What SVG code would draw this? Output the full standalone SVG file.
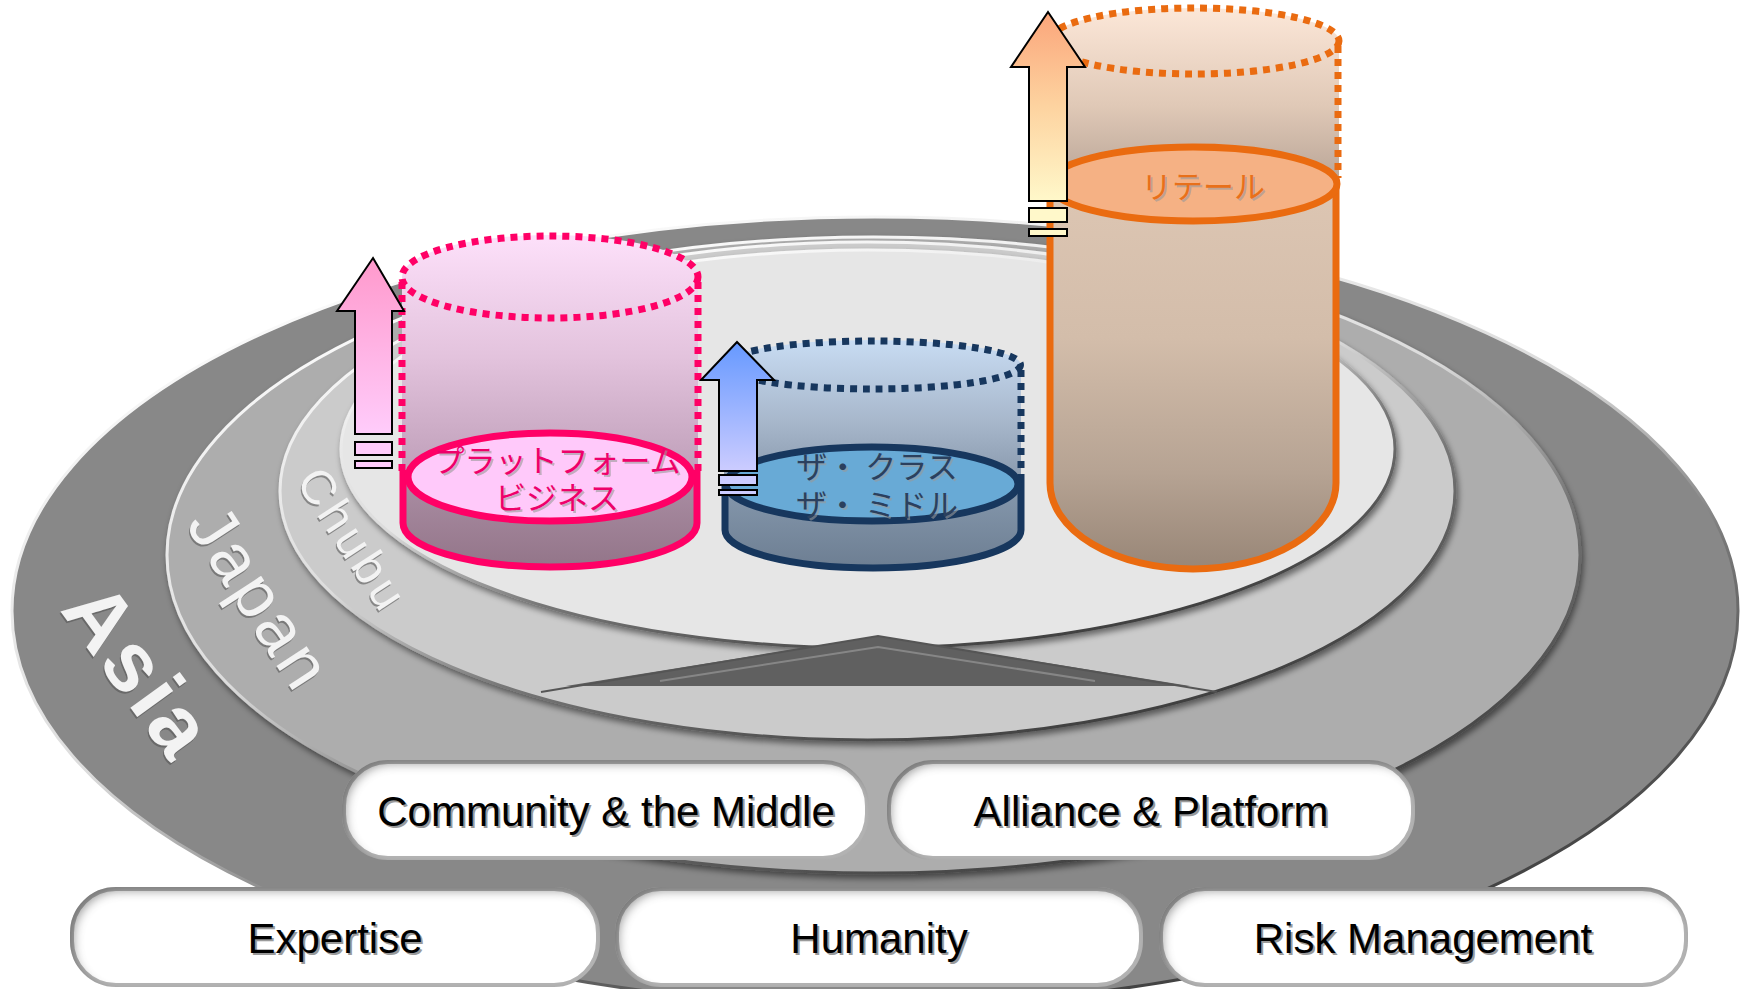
<svg xmlns="http://www.w3.org/2000/svg" width="1742" height="989" viewBox="0 0 1742 989">
<defs>
<style>
.box{fill:#fff;stroke:#b4b4b4;stroke-width:4;filter:url(#inset)}
.btxt{font-family:"Liberation Sans",Arial,sans-serif;font-size:42px;fill:#000;text-anchor:middle}
.bsh{font-family:"Liberation Sans",Arial,sans-serif;font-size:42px;fill:#9a9a9a;text-anchor:middle}
.ring{stroke:url(#edge);stroke-width:3}
.rl{font-family:"Liberation Sans",Arial,sans-serif;text-anchor:middle;fill:#f3f3f3}
.rls{font-family:"Liberation Sans",Arial,sans-serif;text-anchor:middle;fill:#505050;opacity:.55}
.jp{font-family:"Noto Sans CJK JP","Noto Sans CJK SC",sans-serif;font-size:31px;text-anchor:middle}
.jps{font-family:"Noto Sans CJK JP","Noto Sans CJK SC",sans-serif;font-size:31px;text-anchor:middle;fill:#999;opacity:.6}
.arrow{stroke:#000;stroke-width:2}
.dot{fill:none;stroke-width:7;stroke-dasharray:7 6}
.sol{fill:none;stroke-width:7}
</style>
<linearGradient id="edge" x1="0.2" y1="0" x2="0.8" y2="1">
 <stop offset="0" stop-color="#ffffff"/>
 <stop offset="0.45" stop-color="#dcdcdc"/>
 <stop offset="0.65" stop-color="#777"/>
 <stop offset="1" stop-color="#333"/>
</linearGradient>
<filter id="sh" x="-5%" y="-5%" width="110%" height="115%">
 <feGaussianBlur in="SourceAlpha" stdDeviation="3"/>
 <feOffset dx="2" dy="4"/>
 <feComponentTransfer><feFuncA type="linear" slope="0.5"/></feComponentTransfer>
 <feMerge><feMergeNode/><feMergeNode in="SourceGraphic"/></feMerge>
</filter>
<filter id="inset" x="-5%" y="-15%" width="110%" height="130%">
 <feComponentTransfer in="SourceAlpha" result="inv"><feFuncA type="table" tableValues="1 0"/></feComponentTransfer>
 <feGaussianBlur in="inv" stdDeviation="5"/>
 <feOffset dx="5" dy="5" result="ob"/>
 <feFlood flood-color="#505050" flood-opacity="0.7"/>
 <feComposite in2="ob" operator="in"/>
 <feComposite in2="SourceAlpha" operator="in" result="inner"/>
 <feMerge><feMergeNode in="SourceGraphic"/><feMergeNode in="inner"/></feMerge>
</filter>
<linearGradient id="pinkTop" gradientUnits="userSpaceOnUse" x1="0" y1="235" x2="0" y2="478">
 <stop offset="0" stop-color="#fde0fa"/><stop offset="0.5" stop-color="#e3c3dd"/><stop offset="1" stop-color="#bd9db7"/>
</linearGradient>
<linearGradient id="pinkLow" gradientUnits="userSpaceOnUse" x1="0" y1="478" x2="0" y2="567">
 <stop offset="0" stop-color="#ab8ea4"/><stop offset="1" stop-color="#937589"/>
</linearGradient>
<linearGradient id="blueTop" gradientUnits="userSpaceOnUse" x1="0" y1="340" x2="0" y2="484">
 <stop offset="0" stop-color="#c8dcf3"/><stop offset="0.55" stop-color="#a8b8cc"/><stop offset="1" stop-color="#8797ab"/>
</linearGradient>
<linearGradient id="blueLow" gradientUnits="userSpaceOnUse" x1="0" y1="484" x2="0" y2="568">
 <stop offset="0" stop-color="#8699ae"/><stop offset="1" stop-color="#6d7e92"/>
</linearGradient>
<linearGradient id="orTop" gradientUnits="userSpaceOnUse" x1="0" y1="8" x2="0" y2="184">
 <stop offset="0" stop-color="#fce7d8"/><stop offset="0.55" stop-color="#e0c9b7"/><stop offset="1" stop-color="#b8a496"/>
</linearGradient>
<linearGradient id="orLow" gradientUnits="userSpaceOnUse" x1="0" y1="184" x2="0" y2="569">
 <stop offset="0" stop-color="#ddc6b3"/><stop offset="0.4" stop-color="#d3bdaa"/><stop offset="0.75" stop-color="#b6a393"/><stop offset="1" stop-color="#988677"/>
</linearGradient>
<linearGradient id="pinkArr" x1="0" y1="0" x2="0" y2="1">
 <stop offset="0" stop-color="#ff99cc"/><stop offset="1" stop-color="#ffccfb"/>
</linearGradient>
<linearGradient id="blueArr" x1="0" y1="0" x2="0" y2="1">
 <stop offset="0" stop-color="#6699ff"/><stop offset="1" stop-color="#ccccff"/>
</linearGradient>
<linearGradient id="orArr" x1="0" y1="0" x2="0" y2="1">
 <stop offset="0" stop-color="#fba57a"/><stop offset="0.5" stop-color="#fdd3a0"/><stop offset="1" stop-color="#fff8ca"/>
</linearGradient>
</defs>

<g id="ring-asia">
 <ellipse class="ring" cx="875" cy="611" rx="863" ry="394" fill="#888888"/>
</g>
<g id="ring-japan" filter="url(#sh)">
 <ellipse class="ring" cx="873.5" cy="555" rx="706.5" ry="318" fill="#adadad"/>
</g>
<g id="ring-chubu" filter="url(#sh)">
 <ellipse class="ring" cx="867.5" cy="491" rx="587.5" ry="249" fill="#cbcbcb"/>
</g>
<g id="core" filter="url(#sh)">
 <ellipse class="ring" cx="868" cy="449" rx="527" ry="199" fill="#e6e6e6"/>
</g>

<g id="triangle">
 <polygon points="878,636 566,686 1190,686" fill="#606060"/>
 <polyline points="541,692 878,636 1217,692" fill="none" stroke="#555" stroke-width="2"/>
 <polyline points="660,681 878,647 1095,681" fill="none" stroke="#a0a0a0" stroke-width="2" opacity="0.6"/>
</g>

<g id="ring-labels">
 <text class="rls" transform="translate(115,690) rotate(54)" font-size="84" font-weight="bold" letter-spacing="4">Asia</text>
 <text class="rl" transform="translate(116,688) rotate(54)" font-size="84" font-weight="bold" letter-spacing="4">Asia</text>
 <text class="rls" transform="translate(240,613) rotate(57)" font-size="68" letter-spacing="4">Japan</text>
 <text class="rl" transform="translate(241,611) rotate(57)" font-size="68" letter-spacing="4">Japan</text>
 <text class="rls" transform="translate(338,551) rotate(57)" font-size="48" letter-spacing="4">Chubu</text>
 <text class="rl" transform="translate(339,549) rotate(57)" font-size="48" letter-spacing="4" fill="#e9e9e9">Chubu</text>
</g>

<g id="cyl-platform">
 <path d="M402,277 A148,42 0 0 1 698,277 L698,478 L402,478 Z" fill="url(#pinkTop)"/>
 <ellipse class="dot" cx="550" cy="277" rx="148" ry="41" stroke="#ff0066"/>
 <path class="dot" d="M402,282 V472 M698,282 V472" stroke="#ff0066"/>
 <path d="M403,478 L403,523 A147,44 0 0 0 697,523 L697,478 Z" fill="url(#pinkLow)"/>
 <path class="sol" d="M403,470 L403,523 A147,44 0 0 0 697,523 L697,470" stroke="#ff0066"/>
 <ellipse cx="550" cy="477" rx="142" ry="44" fill="#ffc9fa" stroke="#ff0066" stroke-width="7"/>
 <text class="jps" x="559" y="474">プラットフォーム</text>
 <text class="jp" x="557" y="472" fill="#ee006a">プラットフォーム</text>
 <text class="jps" x="559" y="511">ビジネス</text>
 <text class="jp" x="557" y="509" fill="#ee006a">ビジネス</text>
</g>

<g id="cyl-class">
 <path d="M724,365 A148,25 0 0 1 1021,365 L1021,484 L724,484 Z" fill="url(#blueTop)"/>
 <ellipse class="dot" cx="872.5" cy="365" rx="148" ry="24" stroke="#17375e"/>
 <path class="dot" d="M724,370 V478 M1021,370 V478" stroke="#17375e"/>
 <path d="M725,484 V530 A148,38 0 0 0 1021,530 V484 Z" fill="url(#blueLow)"/>
 <path class="sol" d="M725,478 V530 A148,38 0 0 0 1021,530 V478" stroke="#17375e"/>
 <ellipse cx="872" cy="484" rx="146" ry="37" fill="#68aad6" stroke="#17375e" stroke-width="7"/>
 <text class="jps" x="879" y="480">ザ・ クラス</text>
 <text class="jp" x="877" y="478" fill="#2b405e">ザ・ クラス</text>
 <text class="jps" x="879" y="518">ザ・ ミドル</text>
 <text class="jp" x="877" y="516" fill="#2b405e">ザ・ ミドル</text>
</g>

<g id="cyl-retail">
 <path d="M1049,41 A145,33 0 0 1 1339,41 L1339,184 L1049,184 Z" fill="url(#orTop)"/>
 <ellipse class="dot" cx="1194" cy="41" rx="145" ry="33" stroke="#ea6b10"/>
 <path class="dot" d="M1338,46 V178" stroke="#ea6b10"/>
 <path d="M1050,184 V483 A143,86 0 0 0 1336,483 V184 Z" fill="url(#orLow)"/>
 <path class="sol" d="M1050,184 V483 A143,86 0 0 0 1336,483 V178" stroke="#ea6b10"/>
 <ellipse cx="1193" cy="184" rx="144" ry="37" fill="#f5b184" stroke="#ea6b10" stroke-width="7"/>
 <text class="jps" x="1205" y="200">リテール</text>
 <text class="jp" x="1203" y="198" fill="#e8701a">リテール</text>
</g>

<g id="growth-arrows">
 <path class="arrow" d="M373,258 L404,311 L392,311 L392,434 L355,434 L355,311 L337,311 Z" fill="url(#pinkArr)"/>
 <rect class="arrow" x="355" y="442" width="37" height="13" fill="#ffccfb"/>
 <rect class="arrow" x="355" y="461" width="37" height="7" fill="#ffccfb"/>
 <path class="arrow" d="M737,342 L774,380 L757,380 L757,471 L719,471 L719,380 L701,380 Z" fill="url(#blueArr)"/>
 <rect class="arrow" x="719" y="475" width="38" height="10" fill="#ccccff"/>
 <rect class="arrow" x="719" y="490" width="38" height="5" fill="#ccccff"/>
 <path class="arrow" d="M1048,12 L1085,67 L1067,67 L1067,201 L1029,201 L1029,67 L1011,67 Z" fill="url(#orArr)"/>
 <rect class="arrow" x="1029" y="208" width="38" height="14" fill="#fff8ca"/>
 <rect class="arrow" x="1029" y="229" width="38" height="7" fill="#fff8ca"/>
</g>

<g id="box-community">
 <rect class="box" x="344" y="762" width="523" height="96" rx="44"/>
 <text class="bsh" x="608" y="828">Community &amp; the Middle</text>
 <text class="btxt" x="606" y="826">Community &amp; the Middle</text>
</g>
<g id="box-alliance">
 <rect class="box" x="889" y="762" width="524" height="96" rx="44"/>
 <text class="bsh" x="1153" y="828">Alliance &amp; Platform</text>
 <text class="btxt" x="1151" y="826">Alliance &amp; Platform</text>
</g>
<g id="box-expertise">
 <rect class="box" x="72" y="889" width="526" height="96" rx="44"/>
 <text class="bsh" x="337" y="955">Expertise</text>
 <text class="btxt" x="335" y="953">Expertise</text>
</g>
<g id="box-humanity">
 <rect class="box" x="617" y="889" width="524" height="96" rx="44"/>
 <text class="bsh" x="881" y="955">Humanity</text>
 <text class="btxt" x="879" y="953">Humanity</text>
</g>
<g id="box-risk">
 <rect class="box" x="1161" y="889" width="525" height="96" rx="44"/>
 <text class="bsh" x="1425" y="955">Risk Management</text>
 <text class="btxt" x="1423" y="953">Risk Management</text>
</g>
</svg>
